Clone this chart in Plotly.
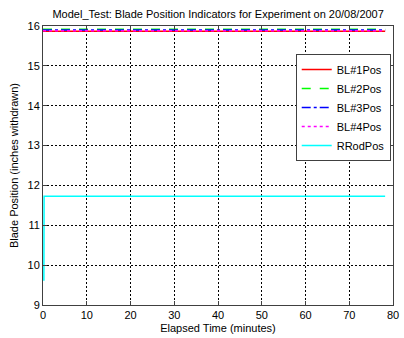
import plotly.graph_objects as go

# Elapsed time (minutes) and blade position indicators (inches withdrawn)
time_bl = [0.0, 78.2]
bl1_pos = [15.87, 15.87]
bl2_pos = [15.92, 15.92]
bl3_pos = [15.90, 15.90]
bl4_pos = [15.88, 15.88]

time_rrod = [0.2, 0.25, 78.2]
rrod_pos = [9.61, 11.73, 11.73]

x_ticks = [0, 10, 20, 30, 40, 50, 60, 70, 80]
y_ticks = [9, 10, 11, 12, 13, 14, 15, 16]

FONT = "Liberation Sans, Arial, sans-serif"

fig = go.Figure()
series = [
    ("BL#1Pos", time_bl, bl1_pos, "#ff0000", "solid"),
    ("BL#2Pos", time_bl, bl2_pos, "#00ff00", "dash"),
    ("BL#3Pos", time_bl, bl3_pos, "#0000ff", "dashdot"),
    ("BL#4Pos", time_bl, bl4_pos, "#ff00ff", "dot"),
    ("RRodPos", time_rrod, rrod_pos, "#00ffff", "solid"),
]
for name, xs, ys, color, dash in series:
    fig.add_trace(go.Scatter(
        x=xs, y=ys, mode="lines", name=name,
        line=dict(color=color, width=1.5, dash=dash),
    ))

axis_common = dict(
    showline=True, linecolor="#404040", linewidth=1, mirror="ticks",
    ticks="inside", ticklen=4, tickcolor="#404040",
    showgrid=True, gridcolor="#000000", gridwidth=1, griddash="2px,2px",
    zeroline=False, tickfont=dict(family=FONT, size=11, color="#000000"),
    ticklabeloverflow="allow",
)

fig.update_layout(
    width=404, height=338,
    margin=dict(l=43, r=5, t=26, b=31),
    paper_bgcolor="white", plot_bgcolor="white",
    font=dict(family=FONT, size=11, color="#000000"),
    title=dict(
        text="Model_Test: Blade Position Indicators for Experiment on 20/08/2007",
        x=0.54, xanchor="center", y=0.958, yanchor="middle",
        font=dict(family=FONT, size=11, color="#000000"),
    ),
    xaxis=dict(
        range=[0, 80], tickvals=x_ticks,
        title=dict(text="Elapsed Time (minutes)", standoff=4,
                   font=dict(family=FONT, size=11)),
        **axis_common,
    ),
    yaxis=dict(
        range=[9, 16], tickvals=y_ticks,
        title=dict(text="Blade Position (inches withdrawn)", standoff=6,
                   font=dict(family=FONT, size=11)),
        **axis_common,
    ),
    legend=dict(
        x=0.9935, xanchor="right", y=0.90, yanchor="top",
        bgcolor="white", bordercolor="#404040", borderwidth=1,
        font=dict(family=FONT, size=11, color="#000000"),
        tracegroupgap=0, itemwidth=30,
    ),
    showlegend=True,
)

fig.write_html("out.html")
